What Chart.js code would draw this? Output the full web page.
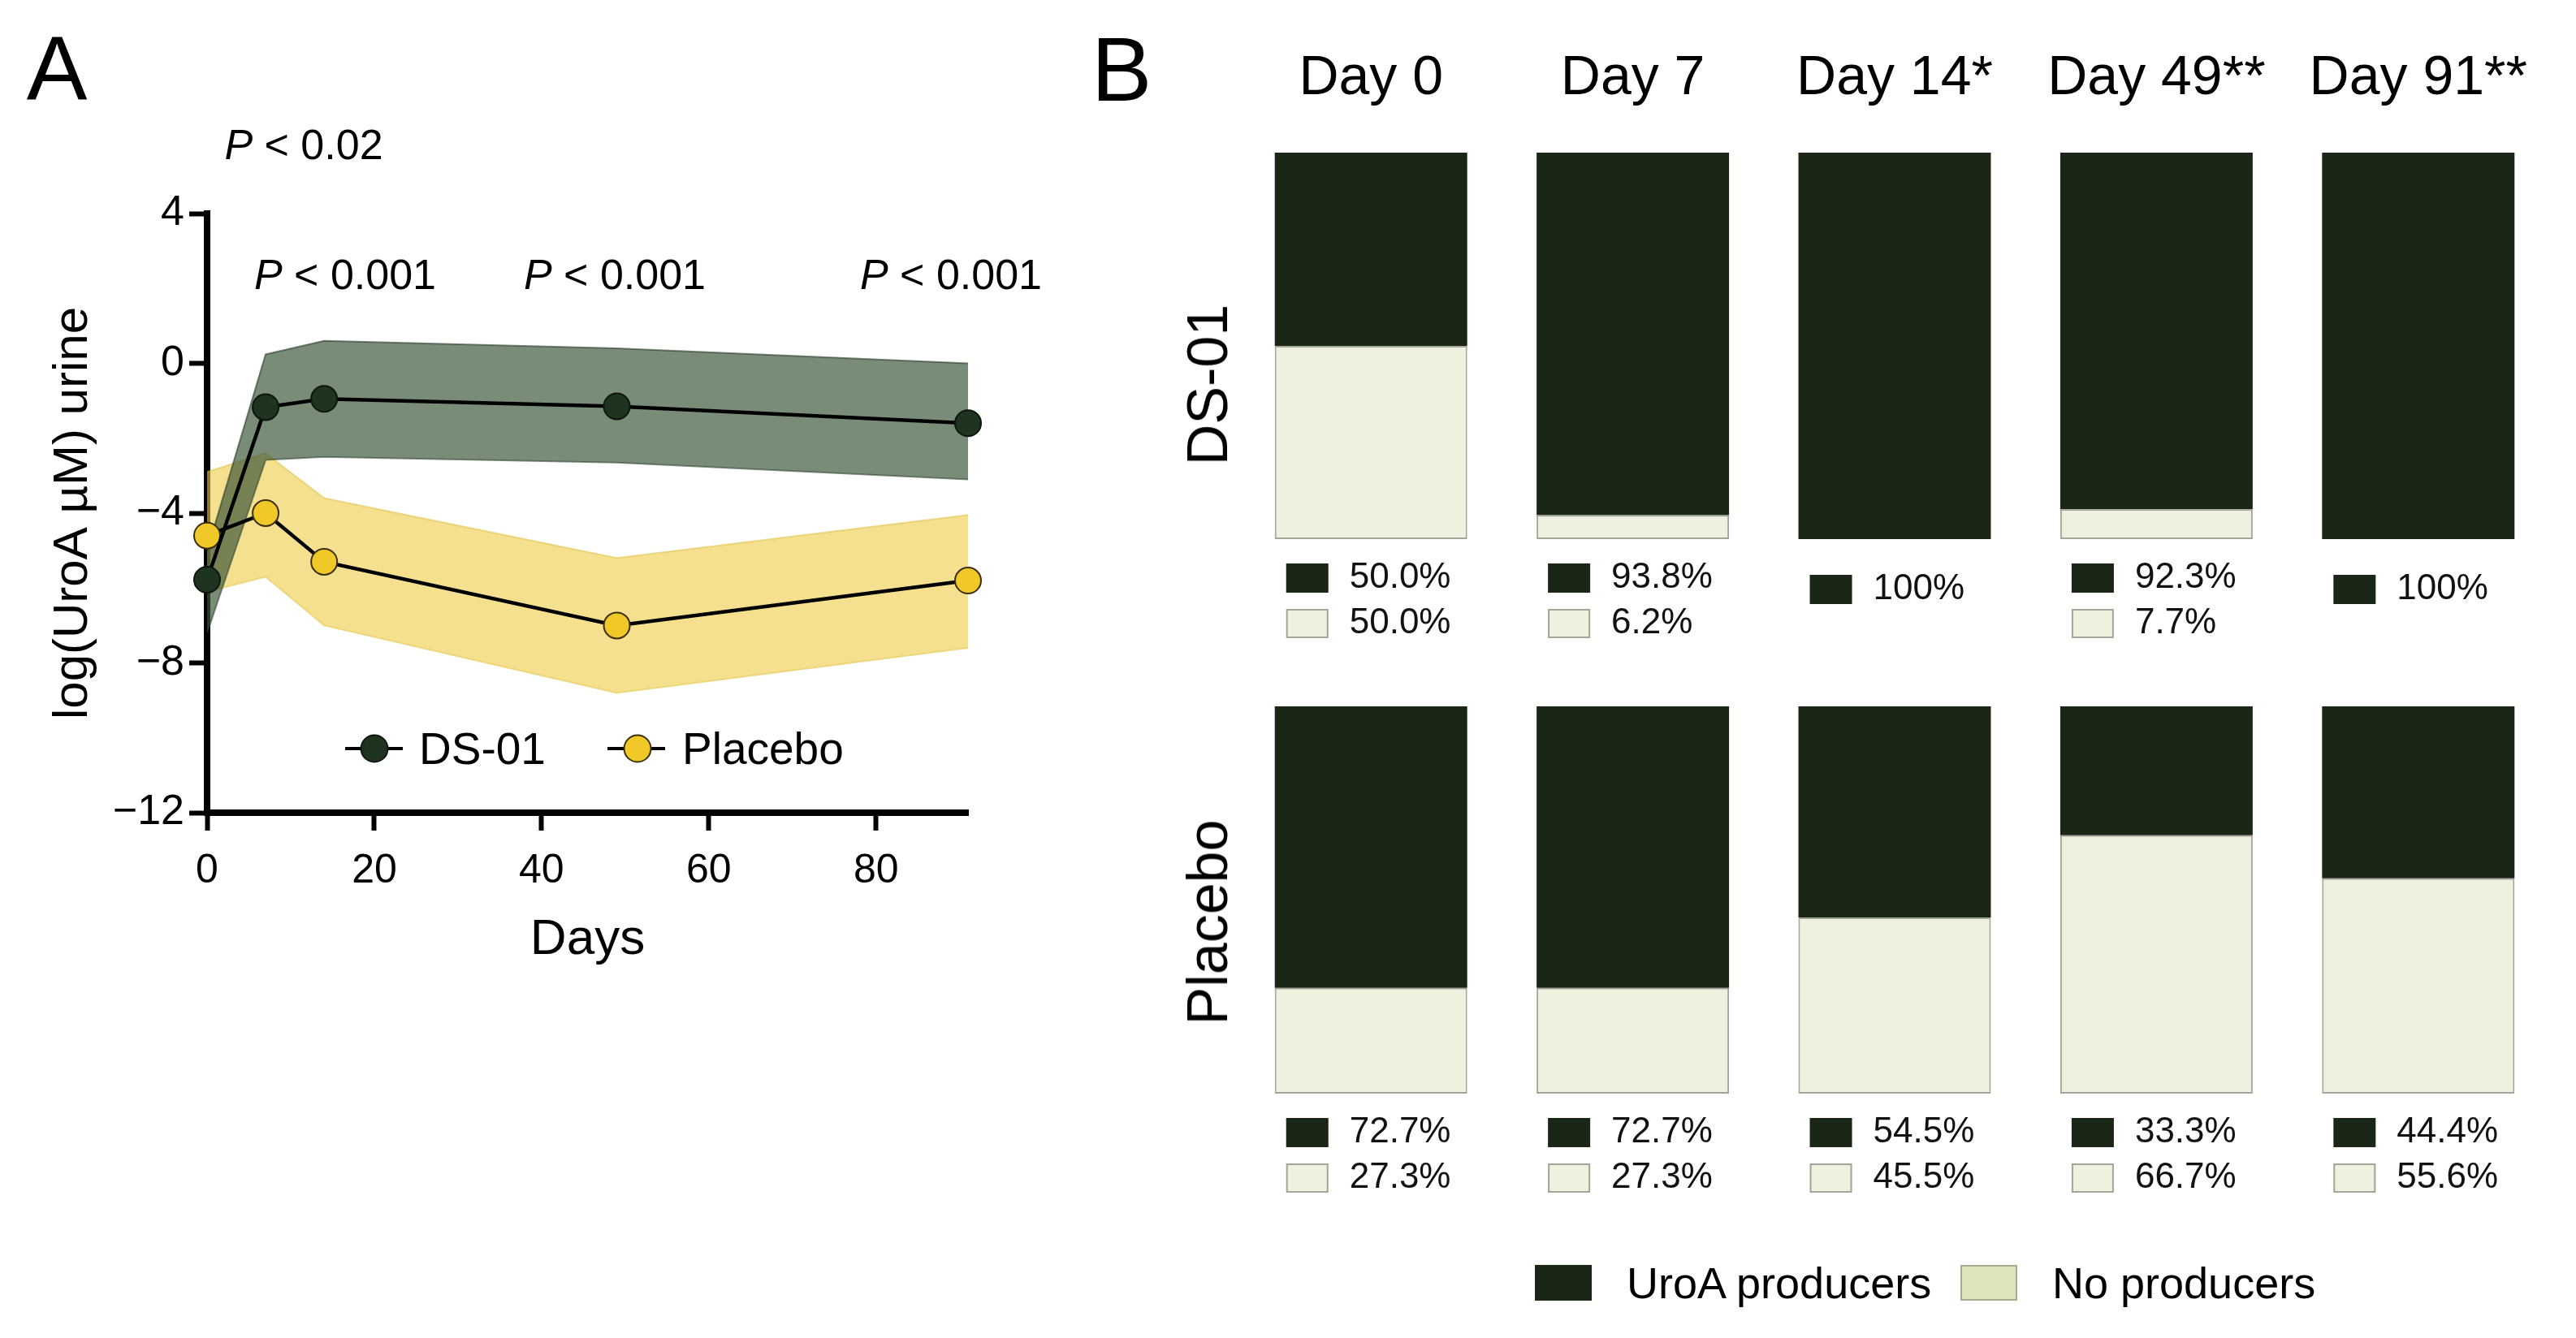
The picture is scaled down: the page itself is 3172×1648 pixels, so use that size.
<!DOCTYPE html>
<html>
<head>
<meta charset="utf-8">
<script src="https://cdn.jsdelivr.net/npm/chart.js@4.4.1/dist/chart.umd.min.js"></script>
<style>
  html, body { margin: 0; padding: 0; background: #fff; }
  body { width: 3172px; height: 1648px; position: relative; overflow: hidden;
         font-family: "Liberation Sans", Arial, sans-serif; color: #000; }
  .box { position: absolute; }
  .c { position: absolute; transform: translate(-50%, -50%); line-height: 1; white-space: nowrap; }
  .l { position: absolute; transform: translateY(-50%); line-height: 1; white-space: nowrap; }
  .r { position: absolute; transform: translate(-50%, -50%) rotate(-90deg); line-height: 1; white-space: nowrap; }
  .dot { position: absolute; width: 31px; height: 31px; border-radius: 50%; transform: translate(-50%, -50%); }
  .seg { position: absolute; height: 4px; background: #000; transform: translateY(-50%); }
  .sw { position: absolute; width: 70px; height: 44px; transform: translateY(-50%); }
</style>
</head>
<body>

<div class="box" style="left:0;top:0;width:1300px;height:1250px"><canvas id="lineChart"></canvas></div>
<div class="box" style="left:1400px;top:0;width:1772px;height:820px"><canvas id="dsChart"></canvas></div>
<div class="box" style="left:1400px;top:820px;width:1772px;height:828px"><canvas id="pbChart"></canvas></div>

<!-- panel letters -->
<div class="c" style="left:70px;top:84px;font-size:112px">A</div>
<div class="c" style="left:1381px;top:86px;font-size:112px">B</div>

<!-- p values -->
<div class="c" style="left:374px;top:178px;font-size:52px"><i>P</i> &lt; 0.02</div>
<div class="c" style="left:425px;top:338px;font-size:52px"><i>P</i> &lt; 0.001</div>
<div class="c" style="left:757px;top:338px;font-size:52px"><i>P</i> &lt; 0.001</div>
<div class="c" style="left:1171px;top:338px;font-size:52px"><i>P</i> &lt; 0.001</div>

<!-- legend A -->
<div class="seg" style="left:425px;top:922px;width:71px"></div>
<div class="dot" style="left:461px;top:922px;background:#1e3320;border:2px solid #0d160d"></div>
<div class="l" style="left:516px;top:922px;font-size:55px">DS-01</div>
<div class="seg" style="left:748px;top:922px;width:71px"></div>
<div class="dot" style="left:785px;top:922px;background:#f0c828;border:2px solid #3a3010"></div>
<div class="l" style="left:840px;top:922px;font-size:55px">Placebo</div>

<!-- row labels B -->
<div class="r" style="left:1487px;top:474px;font-size:70px">DS-01</div>
<div class="r" style="left:1487px;top:1136px;font-size:70px">Placebo</div>

<!-- legend B -->
<div class="sw" style="left:1890px;top:1580px;background:#1a2616"></div>
<div class="l" style="left:2003px;top:1580px;font-size:54px">UroA producers</div>
<div class="sw" style="left:2414px;top:1580px;background:#dfe4bb;box-shadow:inset 0 0 0 2px #a8ab92"></div>
<div class="l" style="left:2527px;top:1580px;font-size:54px">No producers</div>

<script>
// panel A: urolithin A in urine
const days = [0, 7, 14, 49, 91];
const xTicks = [0, 20, 40, 60, 80];
const yTicks = [-12, -8, -4, 0, 4];
const dsMean = [-5.78, -1.17, -0.95, -1.15, -1.6];
const dsUpper = [-5.0, 0.24, 0.6, 0.4, 0.0];
const dsLower = [-7.2, -2.58, -2.5, -2.65, -3.1];
const pbMean = [-4.6, -4.0, -5.3, -7.0, -5.8];
const pbUpper = [-2.9, -2.4, -3.6, -5.2, -4.05];
const pbLower = [-6.1, -5.7, -7.0, -8.8, -7.6];

// panel B: producers per visit (%)
const dayLabels = ['Day 0', 'Day 7', 'Day 14*', 'Day 49**', 'Day 91**'];
const dsProducers = [50.0, 93.8, 100, 92.3, 100];
const dsNon = [50.0, 6.2, 0, 7.7, 0];
const pbProducers = [72.7, 72.7, 54.5, 33.3, 44.4];
const pbNon = [27.3, 27.3, 45.5, 66.7, 55.6];

const DARK = '#1a2616';
const LIGHT = '#eef1dd';
const EDGE = '#a3a599';

Chart.defaults.font.family = '"Liberation Sans", Arial, sans-serif';
Chart.defaults.color = '#000';
Chart.defaults.animation = false;

const pts = arr => days.map((d, i) => ({ x: d, y: arr[i] }));
const minus = v => String(v).replace('-', '\u2212');

const band = (arr, fill, color, edge, order) => ({
    data: pts(arr),
    fill: fill,
    backgroundColor: color,
    borderColor: edge,
    borderWidth: 2,
    pointRadius: 0,
    tension: 0,
    order: order
});

const meanLine = (label, arr, color, ring) => ({
    label: label,
    data: pts(arr),
    borderColor: '#000',
    borderWidth: 4.5,
    pointRadius: 16,
    pointBackgroundColor: color,
    pointBorderColor: ring,
    pointBorderWidth: 2,
    tension: 0,
    fill: false,
    clip: false,
    order: 0
});

const axisLook = {
    grid: { display: true, drawOnChartArea: false, drawTicks: true, tickLength: 22, tickWidth: 6, tickColor: '#000', color: '#000' },
    border: { display: true, color: '#000', width: 8 }
};

new Chart(document.getElementById('lineChart'), {
    type: 'line',
    data: {
        datasets: [
            meanLine('DS-01', dsMean, '#1e3320', '#0d160d'),
            meanLine('Placebo', pbMean, '#f0c828', '#3a3010'),
            band(dsUpper, '+1', 'rgba(58,86,56,0.68)', 'rgba(30,48,30,0.55)', 1),
            band(dsLower, false, 'rgba(0,0,0,0)', 'rgba(30,48,30,0.55)', 1),
            band(pbUpper, '+1', 'rgba(238,204,70,0.6)', 'rgba(220,190,60,0.5)', 2),
            band(pbLower, false, 'rgba(0,0,0,0)', 'rgba(220,190,60,0.5)', 2)
        ]
    },
    options: {
        responsive: true,
        maintainAspectRatio: false,
        layout: { padding: { top: 263, right: 108, bottom: 49, left: 0 } },
        plugins: { legend: { display: false }, tooltip: { enabled: false } },
        scales: {
            x: {
                type: 'linear',
                min: 0,
                max: 91,
                afterBuildTicks: s => { s.ticks = xTicks.map(v => ({ value: v })); },
                afterFit: s => { s.height = 200; },
                ticks: { font: { size: 50 }, padding: 20, color: '#000' },
                title: { display: true, text: 'Days', font: { size: 62 }, padding: { top: 0, bottom: 6 } },
                ...axisLook
            },
            y: {
                min: -12,
                max: 4,
                afterBuildTicks: s => { s.ticks = yTicks.map(v => ({ value: v })); },
                afterFit: s => { s.width = 255; },
                ticks: { font: { size: 52 }, padding: 6, color: '#000', callback: v => minus(v) },
                title: { display: true, text: 'log(UroA µM) urine', font: { size: 60 }, padding: { top: 54, bottom: 0 } },
                ...axisLook
            }
        }
    }
});

// percentage keys drawn under each bar
const fmt = v => (v === 100 ? '100%' : v.toFixed(1) + '%');

const barKeys = {
    id: 'barKeys',
    afterDatasetsDraw(chart) {
        const ctx = chart.ctx;
        const bars = chart.getDatasetMeta(0).data;
        const order = [chart.data.datasets[1], chart.data.datasets[0]];
        ctx.save();
        ctx.font = '44px "Liberation Sans", Arial, sans-serif';
        ctx.textBaseline = 'middle';
        bars.forEach((bar, i) => {
            const p = bar.getProps(['x', 'width'], true);
            const left = p.x - p.width / 2 + 14;
            const items = order.filter(ds => ds.data[i] > 0);
            let y = chart.chartArea.bottom + 48;
            if (items.length === 1) y += 14;
            items.forEach(ds => {
                ctx.fillStyle = ds.backgroundColor;
                ctx.fillRect(left, y - 18, 52, 36);
                if (ds.backgroundColor === LIGHT) {
                    ctx.strokeStyle = EDGE;
                    ctx.lineWidth = 2;
                    ctx.strokeRect(left + 1, y - 17, 50, 34);
                }
                ctx.fillStyle = '#111';
                ctx.fillText(fmt(ds.data[i]), left + 78, y);
                y += 56;
            });
        });
        ctx.restore();
    }
};

function rowChart(id, producers, non, header, pad) {
    return new Chart(document.getElementById(id), {
        type: 'bar',
        data: {
            labels: dayLabels,
            datasets: [
                { label: 'No producers', data: non, backgroundColor: LIGHT, borderColor: EDGE, borderWidth: 2, borderSkipped: false,
                  barPercentage: 0.735, categoryPercentage: 1.0 },
                { label: 'UroA producers', data: producers, backgroundColor: DARK, borderWidth: 0,
                  barPercentage: 0.735, categoryPercentage: 1.0 }
            ]
        },
        options: {
            responsive: true,
            maintainAspectRatio: false,
            layout: { padding: pad },
            plugins: { legend: { display: false }, tooltip: { enabled: false } },
            scales: {
                x: {
                    stacked: true,
                    display: header,
                    position: 'top',
                    afterFit: s => { s.height = header ? 188 : 0; },
                    grid: { display: false },
                    border: { display: false },
                    ticks: { font: { size: 68 }, padding: 42, color: '#000', maxRotation: 0 }
                },
                y: {
                    stacked: true,
                    display: false,
                    min: 0,
                    max: 100
                }
            }
        },
        plugins: [barKeys]
    });
}

rowChart('dsChart', dsProducers, dsNon, true, { top: 0, right: 33, bottom: 156, left: 127 });
rowChart('pbChart', pbProducers, pbNon, false, { top: 50, right: 33, bottom: 301, left: 127 });
</script>
</body>
</html>
